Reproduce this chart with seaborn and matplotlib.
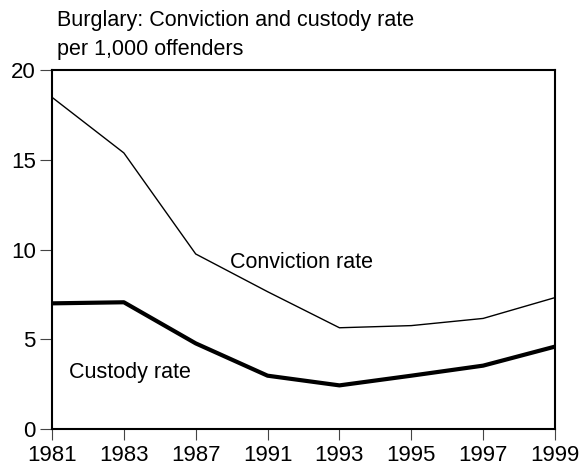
import matplotlib
matplotlib.use("Agg")
import matplotlib.pyplot as plt
import pandas as pd
import seaborn as sns

years = ["1981", "1983", "1987", "1991", "1993", "1995", "1997", "1999"]
conviction_rate = [18.48, 15.38, 9.75, 7.65, 5.64, 5.76, 6.16, 7.32]
custody_rate = [7.0, 7.06, 4.77, 2.97, 2.43, 2.97, 3.53, 4.59]

sns.set_style("white", rc={
    "text.color": "black",
    "xtick.color": "black",
    "ytick.color": "black",
    "axes.edgecolor": "black",
    "xtick.bottom": True,
    "ytick.left": True,
})
plt.rcParams["font.family"] = ["Liberation Sans", "DejaVu Sans"]

df = pd.DataFrame({
    "pos": range(len(years)),
    "Year": years,
    "Conviction rate": conviction_rate,
    "Custody rate": custody_rate,
})

fig = plt.figure(figsize=(5.83, 4.76), dpi=100)
ax = fig.add_axes([52 / 583, 47 / 476, 503 / 583, 359 / 476])

sns.lineplot(data=df, x="pos", y="Conviction rate", color="black", linewidth=1.0, ax=ax)
sns.lineplot(data=df, x="pos", y="Custody rate", color="black", linewidth=3.0, ax=ax)

ax.set_xlim(0, len(years) - 1)
ax.set_ylim(0, 20)
ax.set_xticks(range(len(years)))
ax.set_xticklabels(years)
ax.set_yticks([0, 5, 10, 15, 20])
ax.set_xlabel("")
ax.set_ylabel("")
ax.tick_params(axis="both", direction="out", width=0.8, color="#444444",
               labelcolor="black", labelsize=16)
ax.tick_params(axis="x", length=7.6, pad=4)
ax.tick_params(axis="y", length=8.6, pad=3)
for s in ax.spines.values():
    s.set_linewidth(1.5)

ax.text(2.48, 8.97, "Conviction rate", fontsize=15.5, ha="left", va="baseline")
ax.text(0.24, 2.84, "Custody rate", fontsize=15.5, ha="left", va="baseline")

fig.text(57 / 583, 1 - 26 / 476, "Burglary: Conviction and custody rate",
         fontsize=15.5, ha="left", va="baseline")
fig.text(57 / 583, 1 - 55 / 476, "per 1,000 offenders",
         fontsize=15.5, ha="left", va="baseline")

fig.savefig("out.png", dpi=100)
